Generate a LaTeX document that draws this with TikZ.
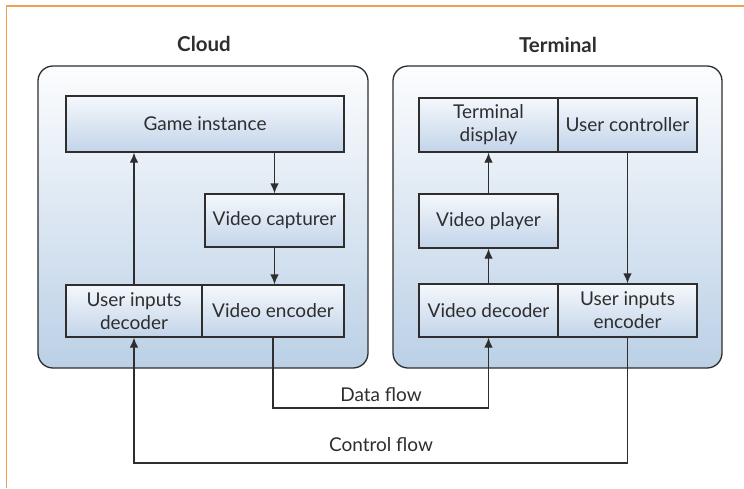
\documentclass[tikz,border=0pt]{standalone}
\usepackage{fontspec}
\setmainfont{Lato}
\usetikzlibrary{arrows.meta}
\definecolor{frameorange}{HTML}{F0A04E}
\definecolor{linegray}{HTML}{2E2E2E}
\definecolor{outertop}{HTML}{FCFDFE}
\definecolor{outerbot}{HTML}{BBD0E6}
\definecolor{innertop}{HTML}{F5F8FC}
\definecolor{innerbot}{HTML}{C2D4E9}
\tikzset{
  outerbox/.style={draw=linegray, line width=1.3pt, rounded corners=15pt,
    top color=outertop, bottom color=outerbot},
  innerbox/.style={draw=linegray, line width=1.3pt, top color=innertop,
    bottom color=innerbot, inner sep=0pt, align=center,
    font=\fontsize{19}{23}\selectfont, text=linegray},
  title/.style={font=\fontsize{20.5}{24}\selectfont\bfseries, text=linegray},
  lbl/.style={font=\fontsize{19}{23}\selectfont, text=linegray},
  arr/.style={draw=linegray, line width=1.3pt, -{Latex[length=10pt,width=8.5pt]}},
}
\begin{document}
\begin{tikzpicture}[x=1pt,y=-1pt]
\useasboundingbox (0,0) rectangle (744,488);
\fill[white] (0,0) rectangle (744,488);
\draw[frameorange, line width=1.6pt] (6.5,488) -- (6.5,6) -- (744,6);

% outer boxes
\node[outerbox, minimum width=330pt, minimum height=302pt] (cloud) at (203,217) {};
\node[outerbox, minimum width=329pt, minimum height=302pt] (term) at (557.5,217) {};
\node[title] (cloudt) at (204,44) {Cloud};
\node[title] (termt) at (558,45) {Terminal};

% cloud inner
\node[innerbox, minimum width=278pt, minimum height=56pt] (game) at (205,124) {Game instance};
\node[innerbox, minimum width=139pt, minimum height=53pt] (capt) at (274.5,220.5) {Video capturer};
\node[innerbox, minimum width=136pt, minimum height=52pt] (uid) at (134,311) {User inputs\\decoder};
\node[innerbox, minimum width=142pt, minimum height=52pt] (venc) at (273,311) {Video encoder};

% terminal inner
\node[innerbox, minimum width=139pt, minimum height=54pt] (tdisp) at (488.5,125) {Terminal\\display};
\node[innerbox, minimum width=139pt, minimum height=54pt] (uctl) at (627.5,125) {User controller};
\node[innerbox, minimum width=139pt, minimum height=54pt] (vplay) at (488.5,221) {Video player};
\node[innerbox, minimum width=139pt, minimum height=53pt] (vdec) at (488.5,310.5) {Video decoder};
\node[innerbox, minimum width=139pt, minimum height=53pt] (uienc) at (627.5,310.5) {User inputs\\encoder};

% internal arrows
\draw[arr] (game.south -| capt.north) -- (capt.north);
\draw[arr] (capt.south) -- (capt.south |- venc.north);
\draw[arr] (uid.north) -- (uid.north |- game.south);
\draw[arr] (vdec.north) -- (vplay.south);
\draw[arr] (vplay.north) -- (tdisp.south);
\draw[arr] (uctl.south) -- (uienc.north);

% flows
\coordinate (d1) at (273,408);
\coordinate (c1) at (627.5,463);
\draw[arr] (venc.south) -- (venc.south |- d1) -- (vdec.south |- d1) -- (vdec.south);
\draw[arr] (uienc.south) -- (c1) -- (uid.south |- c1) -- (uid.south);
\node[lbl] (dataflow) at (381,395) {Data flow};
\node[lbl] (ctrlflow) at (381,445) {Control flow};
\end{tikzpicture}
\end{document}
